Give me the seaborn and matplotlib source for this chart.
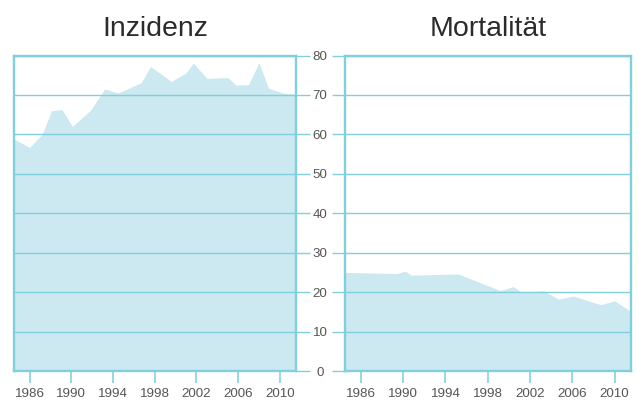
import numpy as np
import pandas as pd
import matplotlib
matplotlib.use("Agg")
import matplotlib.pyplot as plt
import seaborn as sns

# Inzidenz (vertices)
inz_years = [1984.5, 1986.0, 1987.2, 1988.1, 1989.1, 1990.1, 1991.8, 1993.2, 1994.5,
             1996.7, 1997.6, 1999.6, 2001.0, 2001.7, 2003.0, 2005.0, 2005.8, 2007.0,
             2008.0, 2008.9, 2010.3, 2011.5]
inz_vals = [58.8, 56.7, 60.0, 66.0, 66.3, 62.0, 66.0, 71.5, 70.5,
            73.1, 77.2, 73.4, 75.6, 78.1, 74.2, 74.4, 72.5, 72.6,
            78.2, 71.7, 70.5, 70.2]

# Mortalitaet
mort_years = [1984.5, 1989.4, 1990.2, 1990.8, 1995.2, 1999.2, 2000.4, 2001.2,
              2003.3, 2004.7, 2006.1, 2008.7, 2010.0, 2011.6]
mort_vals = [25.0, 24.7, 25.3, 24.3, 24.6, 20.4, 21.4, 20.0,
             20.3, 18.2, 19.0, 16.8, 17.8, 15.0]

titles = ["Inzidenz", "Mortalität"]
xticks = [1986, 1990, 1994, 1998, 2002, 2006, 2010]
yticks = [0, 10, 20, 30, 40, 50, 60, 70, 80]

fill_col = "#cce8f0"
line_col = "#7fcfdc"
tick_col = "#8fd6e1"
text_col = "#555555"

sns.set_style("white")
plt.rcParams["font.family"] = ["Liberation Sans", "DejaVu Sans"]

fig = plt.figure(figsize=(6.38, 4.03), dpi=100)
W, H = 638, 403
ax1 = fig.add_axes([14 / W, 32 / H, 282 / W, 315.5 / H])
ax2 = fig.add_axes([345 / W, 32 / H, 286 / W, 315.5 / H])

data = [pd.DataFrame({"year": inz_years, "value": inz_vals}),
        pd.DataFrame({"year": mort_years, "value": mort_vals})]

for ax, df, title in zip([ax1, ax2], data, titles):
    sns.lineplot(data=df, x="year", y="value", ax=ax, linewidth=0, color=fill_col)
    ax.fill_between(df["year"], 0, df["value"], color=fill_col, linewidth=0, zorder=1)
    ax.set_xlim(1984.5, 2011.55)
    ax.set_ylim(0, 80)
    ax.set_xticks(xticks)
    ax.set_yticks(yticks)
    ax.set_xlabel("")
    ax.set_ylabel("")
    ax.grid(axis="y", color=line_col, linewidth=1.0, zorder=2)
    ax.grid(axis="x", visible=False)
    ax.set_axisbelow(False)
    for sp in ax.spines.values():
        sp.set_visible(True)
        sp.set_color(line_col)
        sp.set_linewidth(1.7)
        sp.set_zorder(3)
    ax.tick_params(axis="x", bottom=True, direction="out", length=8.6, width=1.3,
                   color=tick_col, labelsize=9.6, labelcolor=text_col, pad=3.5)
    ax.set_title(title, fontsize=20.5, color="#2b2b2b", pad=14)

ax1.tick_params(axis="y", left=False, labelleft=False, right=True, labelright=True,
                direction="out", length=10, width=1.0, color=line_col,
                labelsize=9.6, labelcolor=text_col, pad=7.4)
for lbl in ax1.get_yticklabels():
    lbl.set_horizontalalignment("center")

ax2.tick_params(axis="y", left=True, labelleft=False, right=False, labelright=False,
                direction="out", length=9.4, width=1.0, color=line_col)

fig.savefig("out.png", dpi=100, facecolor="white")
